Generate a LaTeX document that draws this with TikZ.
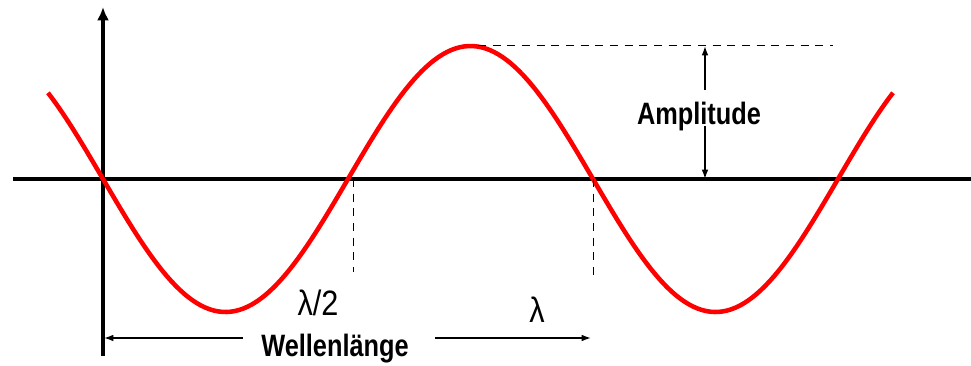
\documentclass[tikz,border=0pt]{standalone}
\usepackage{fontspec}
\setmainfont{Liberation Sans}
\usetikzlibrary{arrows.meta}

\tikzset{
    label/.style={font=\bfseries\fontsize{19}{22}\selectfont, yscale=1.22, transform shape},
    lam/.style={font=\fontsize{23}{26}\selectfont, yscale=1.15, transform shape},
    dim/.style={line width=1.1pt, -{Latex[length=7pt,width=5pt]}},
    hilf/.style={dash pattern=on 6pt off 5pt, line width=0.75pt},
}

\begin{document}
\begin{tikzpicture}[x=0.75pt, y=-0.75pt]
    \useasboundingbox (0,0) rectangle (971,365);

    % === Achsen ===
    \coordinate (O) at (103,179);
    \coordinate (XL) at (13,179);
    \coordinate (XR) at (971,179);
    \coordinate (YT) at (103,7);
    \coordinate (YB) at (103,356);

    \draw[line width=2.6pt] (XL) -- (XR);
    \draw[line width=2.6pt, -{Latex[length=10pt,width=9pt]}] (YB) -- (YT);

    % === Welle ===
    \draw[red, line width=3.4pt]
        plot[domain=48:893, samples=200] (\x, {179+133*sin(0.734694*(\x-103))});

    % === Hilfslinien (gestrichelt) ===
    \coordinate (P) at (478,45);
    \coordinate (PR) at (833,45);
    \coordinate (N1) at (353,179);
    \coordinate (N1b) at (353,272);
    \coordinate (N2) at (593,179);
    \coordinate (N2b) at (593,278);

    \draw[hilf] (P) -- (PR);
    \draw[hilf] (N1) -- (N1b);
    \draw[hilf] (N2) -- (N2b);

    % === Amplitude ===
    \coordinate (AT) at (705,46);
    \coordinate (AB) at (705,179);
    \node[label, inner sep=1pt] (amp) at (699,117) {Amplitude};
    \draw[dim] (705,90) -- (AT);
    \draw[dim] (705,126) -- (AB);

    % === Wellenlaenge ===
    \coordinate (WL) at (104,338);
    \coordinate (WR) at (591,338);
    \node[label] (wl) at (335,349) {Wellenlänge};
    \draw[dim] (243,338) -- (WL);
    \draw[dim] (435,338) -- (WR);

    % === Beschriftung ===
    \node[lam] (halb) at (318,303) {λ/2};
    \node[lam] (lam) at (537,310) {λ};

\end{tikzpicture}
\end{document}
